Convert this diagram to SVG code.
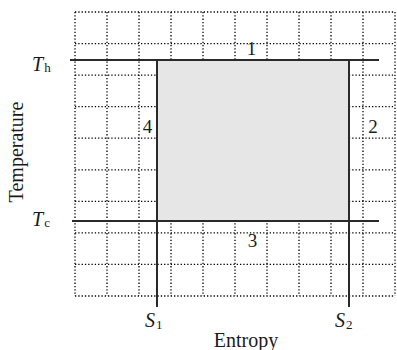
<svg xmlns="http://www.w3.org/2000/svg" width="397" height="350" viewBox="0 0 397 350">
<style>
.grid{stroke:#000;stroke-width:1.3;stroke-dasharray:1.3 2;fill:none}
.axis{stroke:#2a2a2a;stroke-width:2;fill:none}
.t{font-family:"Liberation Serif","Times New Roman",serif;fill:#1a1a1a}
.lab{font-size:20px}
.it{font-style:italic}
.sub{font-size:13px}
.num{font-size:19px;text-anchor:middle}
</style>
<rect width="397" height="350" fill="#fff"/>
<g id="grid" class="grid">
<path d="M75 12V296M107 12V296M139 12V296M171 12V296M203 12V296M235 12V296M267 12V296M299 12V296M331 12V296M363 12V296M395 12V296"/>
<path d="M75 12H395M75 43.6H395M75 75.1H395M75 106.7H395M75 138.2H395M75 169.8H395M75 201.3H395M75 232.9H395M75 264.4H395M75 296H395"/>
</g>
<g id="cycle">
<rect x="157" y="60" width="192" height="161" fill="#e6e6e7"/>
</g>
<g id="connectors" class="axis">
<line x1="70" y1="60" x2="379" y2="60"/>
<line x1="72" y1="221" x2="379" y2="221"/>
<line x1="157" y1="60" x2="157" y2="307"/>
<line x1="349" y1="60" x2="349" y2="307"/>
</g>
<g id="labels" class="t">
<text class="lab" x="32" y="71"><tspan class="it">T</tspan><tspan class="sub" dx="1" dy="1">h</tspan></text>
<text class="lab" x="32" y="226"><tspan class="it">T</tspan><tspan class="sub" dx="1" dy="1">c</tspan></text>
<text class="lab" x="145" y="327"><tspan class="it">S</tspan><tspan class="sub" dx="1" dy="2">1</tspan></text>
<text class="lab" x="335" y="327"><tspan class="it">S</tspan><tspan class="sub" dx="1" dy="2">2</tspan></text>
<text class="lab" x="246" y="347" text-anchor="middle">Entropy</text>
<text class="lab" transform="translate(23 152) rotate(-90)" text-anchor="middle">Temperature</text>
<text class="num" x="251.5" y="55">1</text>
<text class="num" x="373" y="133">2</text>
<text class="num" x="252.5" y="247">3</text>
<text class="num" x="147.5" y="133">4</text>
</g>
</svg>
